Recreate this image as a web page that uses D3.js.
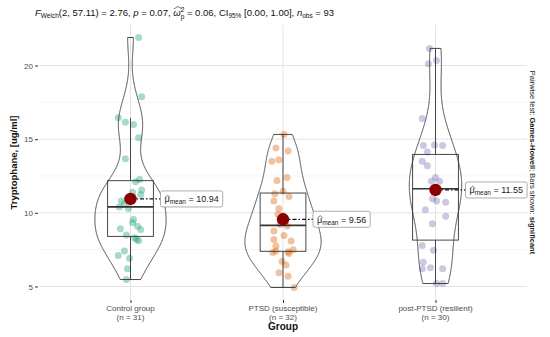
<!DOCTYPE html>
<html>
<head>
<meta charset="utf-8">
<script src="https://cdn.jsdelivr.net/npm/d3@7"></script>
<style>
  body { margin: 0; background: #fff; }
  svg text { font-family: "Liberation Sans", Arial, sans-serif; }
</style>
</head>
<body>
<svg id="chart"></svg>
<script>
const width = 550;
const height = 337;

// groups + raw tryptophane values
const groups = ["Control group", "PTSD (susceptible)", "post-PTSD (resilient)"];

const controlValues = [21.9, 17.88, 16.45, 16.15, 16.0, 15.1, 13.67, 12.26, 12.1, 11.54, 11.4, 11.25, 10.9,
    10.8, 10.6, 10.4, 10.3, 9.55, 9.32, 9.09, 8.92, 8.87, 8.5, 8.3, 8.19, 8.1, 7.4, 7.1, 6.92, 6.2, 5.47];
const ptsdValues = [4.93, 5.7, 5.93, 6.45, 6.7, 7.24, 7.3, 7.35, 7.4, 7.5, 7.74, 8.08, 8.19, 8.46, 8.76, 9.1,
    9.2, 9.4, 9.8, 9.9, 10.3, 10.8, 11.1, 11.3, 11.47, 12.2, 12.4, 13.5, 13.6, 14.2, 14.4, 15.32];
const postValues = [5.2, 5.2, 6.2, 6.2, 6.27, 6.65, 7.46, 7.78, 9.25, 9.77, 10.2, 10.72, 10.8, 10.95, 11.62,
    11.65, 11.7, 12.15, 12.15, 12.4, 13.2, 13.5, 14.12, 14.57, 14.57, 14.6, 16.4, 20.12, 20.34, 21.16];

// horizontal jitter of each point (1/150 of the category step), same order as values
const controlJitter = [8, 11, -12, -5, 3, 8, -5, 9, 5, 11, 2, 10, -3, -9, -6, -11, -2, 3, 2, 7, -10, 10,
    -4, 4, 6, 8, -6, -12, -1, -3, -4];
const ptsdJitter = [11, 5, -4, 3, -1, 6, -10, 5, -7, 10, -7, 8, -9, 1, -9, 4, -3, 2, 0, -5, -4, -9, 6, -8,
    0, -6, 4, -11, -4, 5, -7, 1];
const postJitter = [1, 7, -13, 7, -5, -12, -2, -13, -3, 10, -10, 10, 1, -3, -2, 2, 0, -4, 4, 0, -8, -13,
    -8, -12, 7, -1, -13, -7, 1, -6];

const means = [10.94, 9.56, 11.55];
const yTicks = [5, 10, 15, 20];
const yMinorTicks = [7.5, 12.5, 17.5];
const colors = ["#1B9E77", "#D95F02", "#7570B3"];

const allValues = [controlValues, ptsdValues, postValues];
const allJitter = [controlJitter, ptsdJitter, postJitter];

const panel = { left: 39, right: 527, top: 25, bottom: 300 };

const ext = d3.extent(allValues.flat());
const pad = (ext[1] - ext[0]) * 0.05;

const x = d3.scalePoint()
    .domain(groups)
    .range([panel.left, panel.right])
    .padding(0.6);

const y = d3.scaleLinear()
    .domain([ext[0] - pad, ext[1] + pad])
    .range([panel.bottom, panel.top]);

const step = x.step();

// gaussian kde, bandwidth like R's bw.nrd0
const kde = (vals) => {
    const n = vals.length;
    const s = vals.slice().sort(d3.ascending);
    const iqr = d3.quantile(s, 0.75) - d3.quantile(s, 0.25);
    const bw = 0.9 * Math.min(d3.deviation(vals), iqr / 1.34) * Math.pow(n, -0.2);
    const lo = s[0], hi = s[n - 1];
    return d3.range(512).map(function (i) {
        const t = lo + (hi - lo) * i / 511;
        const dens = d3.sum(vals, v => Math.exp(-0.5 * ((t - v) / bw) ** 2)) / (n * bw * Math.sqrt(2 * Math.PI));
        return { v: t, d: dens };
    });
};

const densities = allValues.map(kde);
const maxDens = d3.max(densities.flat(), d => d.d);

const svg = d3.select("#chart")
    .attr("width", width)
    .attr("height", height);

// grid
svg.selectAll("line.minor")
    .data(yMinorTicks).enter()
    .append("line")
    .attr("x1", panel.left).attr("x2", panel.right)
    .attr("y1", d => y(d)).attr("y2", d => y(d))
    .style("stroke", "#f2f2f2").style("stroke-width", 0.8);

svg.selectAll("line.major")
    .data(yTicks).enter()
    .append("line")
    .attr("x1", panel.left).attr("x2", panel.right)
    .attr("y1", d => y(d)).attr("y2", d => y(d))
    .style("stroke", "#e4e4e4").style("stroke-width", 1);

svg.selectAll("line.vgrid")
    .data(groups).enter()
    .append("line")
    .attr("x1", d => x(d)).attr("x2", d => x(d))
    .attr("y1", panel.top).attr("y2", panel.bottom)
    .style("stroke", "#e4e4e4").style("stroke-width", 1);

// y axis
const yAxis = svg.append("g")
    .attr("transform", `translate(${panel.left - 1},0)`)
    .call(d3.axisLeft(y).tickValues(yTicks).tickSize(3).tickPadding(2));
yAxis.select(".domain").remove();
yAxis.selectAll("line").style("stroke", "#333");
yAxis.selectAll("text").style("font-size", "8px").style("fill", "#4d4d4d")
    .style("font-family", "Liberation Sans, Arial, sans-serif");

// x axis
const xAxis = svg.append("g")
    .attr("transform", `translate(0,${panel.bottom})`)
    .call(d3.axisBottom(x).tickSize(3).tickFormat(""));
xAxis.select(".domain").remove();
xAxis.selectAll("line").style("stroke", "#333");

const xl = svg.selectAll("text.xlab")
    .data(groups).enter()
    .append("text")
    .attr("class", "xlab")
    .attr("x", d => x(d))
    .attr("y", panel.bottom + 11)
    .attr("text-anchor", "middle")
    .style("font-size", "8px")
    .style("fill", "#4d4d4d");
xl.append("tspan").text(d => d);
xl.append("tspan")
    .attr("x", d => x(d))
    .attr("dy", 8.5)
    .text((d, i) => `(n = ${allValues[i].length})`);

svg.append("text")
    .attr("x", x(groups[1]))
    .attr("y", 330)
    .attr("text-anchor", "middle")
    .style("font-size", "10px")
    .style("font-weight", "bold")
    .style("fill", "#111")
    .text("Group");

svg.append("text")
    .attr("transform", `translate(17,${(panel.top + panel.bottom) / 2}) rotate(-90)`)
    .attr("text-anchor", "middle")
    .style("font-size", "9.5px")
    .style("font-weight", "bold")
    .style("fill", "#111")
    .text("Tryptophane, [ug/ml]");

// one layer per group
groups.forEach(function (gName, i) {
    const cx = x(gName);
    const vals = allValues[i];
    const s = vals.slice().sort(d3.ascending);
    const q1 = d3.quantile(s, 0.25), med = d3.quantile(s, 0.5), q3 = d3.quantile(s, 0.75);
    const iqr = q3 - q1;
    const wLo = d3.min(s.filter(v => v >= q1 - 1.5 * iqr));
    const wHi = d3.max(s.filter(v => v <= q3 + 1.5 * iqr));
    const g = svg.append("g");

    // points
    g.selectAll("circle.pt")
        .data(vals).enter()
        .append("circle")
        .attr("cx", (d, j) => cx + allJitter[i][j] * step / 150)
        .attr("cy", d => y(d))
        .attr("r", 3.5)
        .style("fill", colors[i])
        .style("opacity", 0.38);

    // violin
    const area = d3.area()
        .y(d => y(d.v))
        .x0(d => cx - 0.25 * step * d.d / maxDens)
        .x1(d => cx + 0.25 * step * d.d / maxDens);
    g.append("path")
        .datum(densities[i])
        .attr("d", area)
        .style("fill", "none")
        .style("stroke", "#333")
        .style("stroke-width", 0.9);

    // box + whiskers
    const bw = 0.15 * step;
    g.append("line")
        .attr("x1", cx).attr("x2", cx)
        .attr("y1", y(wHi)).attr("y2", y(q3))
        .style("stroke", "#333").style("stroke-width", 0.9);
    g.append("line")
        .attr("x1", cx).attr("x2", cx)
        .attr("y1", y(q1)).attr("y2", y(wLo))
        .style("stroke", "#333").style("stroke-width", 0.9);
    g.append("rect")
        .attr("x", cx - bw)
        .attr("width", 2 * bw)
        .attr("y", y(q3))
        .attr("height", y(q1) - y(q3))
        .style("fill", "none")
        .style("stroke", "#333").style("stroke-width", 0.9);
    g.append("line")
        .attr("x1", cx - bw).attr("x2", cx + bw)
        .attr("y1", y(med)).attr("y2", y(med))
        .style("stroke", "#333").style("stroke-width", 1.6);

    // mean + label
    const my = y(means[i]);
    const lx = cx + 30;
    g.append("line")
        .attr("x1", cx).attr("x2", lx)
        .attr("y1", my).attr("y2", my)
        .style("stroke", "#111")
        .style("stroke-width", 1.3)
        .style("stroke-dasharray", "4,2,1.5,2");
    g.append("circle")
        .attr("cx", cx).attr("cy", my)
        .attr("r", 6.2)
        .style("fill", "#8B0000");

    const lab = g.append("g").attr("transform", `translate(${lx},${my})`);
    const rect = lab.append("rect");
    const t = lab.append("text")
        .attr("x", 4)
        .attr("y", 3.4)
        .style("font-size", "9px")
        .style("fill", "#222");
    t.append("tspan").text("\u03BC");
    t.append("tspan").attr("dy", 2).style("font-size", "6.5px").text("mean");
    t.append("tspan").attr("dy", -2).text(" = " + d3.format(".2f")(means[i]));
    // hat over mu
    const mb = t.node().getExtentOfChar(0);
    lab.append("path")
        .attr("d", `M${mb.x + 0.6},${mb.y + 3} L${mb.x + mb.width / 2 + 0.6},${mb.y + 1} L${mb.x + mb.width + 0.6},${mb.y + 3}`)
        .style("fill", "none").style("stroke", "#222").style("stroke-width", 0.6);
    const tw = t.node().getComputedTextLength();
    rect.attr("x", 0).attr("y", -8)
        .attr("width", tw + 8).attr("height", 16)
        .attr("rx", 2)
        .style("fill", "#fff")
        .style("stroke", "#999")
        .style("stroke-width", 0.8);
});

// subtitle with the welch stats
const title = svg.append("text")
    .attr("x", 35)
    .attr("y", 16)
    .style("font-size", "9.5px")
    .style("fill", "#111");
title.append("tspan").style("font-style", "italic").text("F");
title.append("tspan").attr("dy", 2).style("font-size", "6.5px").text("Welch");
title.append("tspan").attr("dy", -2).text("(2, 57.11) = 2.76, ");
title.append("tspan").style("font-style", "italic").text("p");
title.append("tspan").text(" = 0.07, ");
title.append("tspan").style("font-style", "italic").text("\u03C9");
title.append("tspan").attr("dy", -4).style("font-size", "6.5px").text("2");
title.append("tspan").attr("dx", -3.6).attr("dy", 7).style("font-size", "6.5px").text("p");
title.append("tspan").attr("dy", -3).text(" = 0.06, CI");
title.append("tspan").attr("dy", 2).style("font-size", "6.5px").text("95%");
title.append("tspan").attr("dy", -2).text(" [0.00, 1.00], ");
title.append("tspan").style("font-style", "italic").text("n");
title.append("tspan").attr("dy", 2).style("font-size", "6.5px").text("obs");
title.append("tspan").attr("dy", -2).text(" = 93");

// hat over omega
const wi = "F".length + "Welch".length + "(2, 57.11) = 2.76, ".length + "p".length + " = 0.07, ".length;
const wb = title.node().getExtentOfChar(wi);
svg.append("path")
    .attr("d", `M${wb.x + 0.5},${wb.y + 2} L${wb.x + wb.width / 2 + 1},${wb.y - 0.5} L${wb.x + wb.width + 1.5},${wb.y + 2}`)
    .style("fill", "none").style("stroke", "#111").style("stroke-width", 0.6);

// pairwise caption on the right
const cap = svg.append("text")
    .attr("transform", `translate(530,${(panel.top + panel.bottom) / 2}) rotate(90)`)
    .attr("text-anchor", "middle")
    .style("font-size", "7.5px")
    .style("fill", "#222");
cap.append("tspan").text("Pairwise test: ");
cap.append("tspan").style("font-weight", "bold").text("Games-Howell");
cap.append("tspan").text("; Bars shown: ");
cap.append("tspan").style("font-weight", "bold").text("significant");
</script>
</body>
</html>
